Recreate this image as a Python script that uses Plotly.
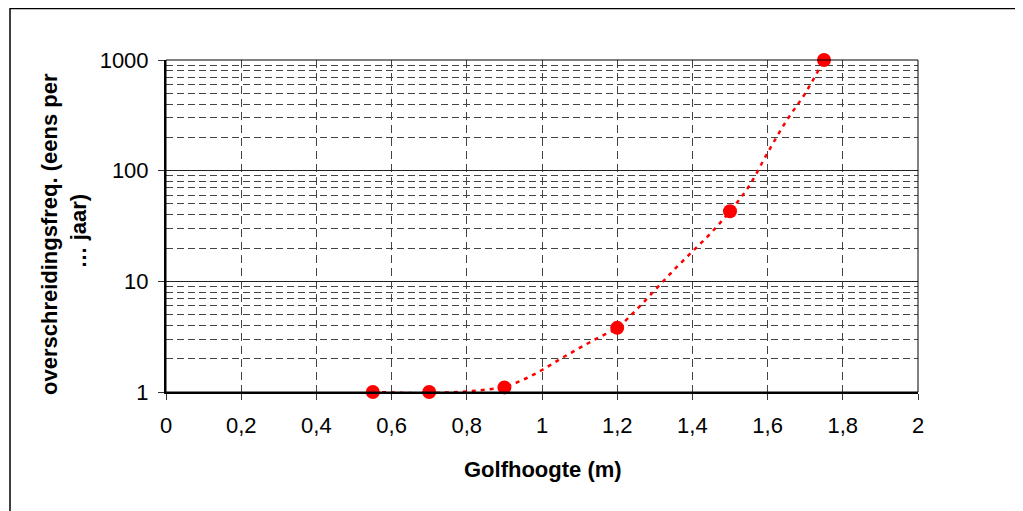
import plotly.graph_objects as go

# Measured points
golfhoogte = [0.55, 0.70, 0.90, 1.20, 1.50, 1.75]
freq = [1.0, 1.0, 1.1, 3.8, 43, 1000]

# Trendline
trend_x = [0.55, 0.60, 0.65, 0.70, 0.75, 0.80, 0.85, 0.90, 0.95, 1.00, 1.05, 1.10, 1.15,
           1.20, 1.25, 1.30, 1.35, 1.40, 1.45, 1.50, 1.55, 1.60, 1.65, 1.70, 1.75]
trend_y = [1.0, 0.99, 0.977, 0.977, 0.99, 1.01, 1.05, 1.11, 1.29, 1.58, 2.0, 2.5, 3.1,
           3.8, 5.5, 8.3, 12.6, 18.6, 27.5, 43, 72, 145, 282, 500, 1000]

y_major = [1, 10, 100, 1000]
y_major_text = ["1", "10", "100", "1000"]
y_minor = [m * d for d in (1, 10, 100) for m in range(2, 10)]

FONT = "Liberation Sans, Arial, sans-serif"
OFF = 8  # page body margin
W, H = 1023 - OFF, 511 - OFF
# plot area in page pixels: x 166..918, y 59.5..391.7
L = 166 - OFF
T = 60 - OFF
PW, PH = 752, 332
R = W - L - PW
B = H - T - PH


def px_x(page_x):
    return (page_x - OFF - L) / PW


def px_y(page_y):
    return 1 - (page_y - OFF - T) / PH


fig = go.Figure()
fig.add_trace(go.Scatter(
    x=trend_x, y=trend_y, mode="lines", line_shape="spline",
    line=dict(color="#FF0000", width=2.5, dash="4px,5px"),
    hoverinfo="skip", showlegend=False))
fig.add_trace(go.Scatter(
    x=golfhoogte, y=freq, mode="markers",
    marker=dict(color="#FF0000", size=14, line=dict(width=0)),
    cliponaxis=False, showlegend=False))

fig.update_layout(
    width=W, height=H,
    margin=dict(l=L, r=R, t=T, b=B, pad=0),
    paper_bgcolor="white", plot_bgcolor="white",
    separators=", ",
    font=dict(family=FONT, size=22, color="black"),
    xaxis=dict(
        range=[0, 2], tick0=0, dtick=0.2, showgrid=True,
        gridcolor="#444444", gridwidth=1, griddash="8px,5px",
        zeroline=False, showline=True, linecolor="black", linewidth=2,
        ticks="outside", ticklen=6, tickcolor="#333333", tickwidth=1,
        ticklabelstandoff=7, tickfont=dict(size=22, family=FONT),
    ),
    yaxis=dict(
        type="log", range=[0, 3], tickvals=y_major, ticktext=y_major_text,
        showgrid=True, gridcolor="#222222", gridwidth=1,
        zeroline=False, showline=True, linecolor="black", linewidth=2,
        ticks="outside", ticklen=6, tickcolor="#333333", tickwidth=1,
        ticklabelstandoff=5, tickfont=dict(size=22, family=FONT),
        minor=dict(tickvals=y_minor, showgrid=True, gridcolor="#444444",
                   gridwidth=1, griddash="7px,4px", ticks=""),
    ),
    shapes=[
        dict(type="rect", xref="paper", yref="paper", x0=0, x1=1, y0=0, y1=1,
             line=dict(color="black", width=1), layer="above"),
        dict(type="rect", xref="paper", yref="paper",
             x0=px_x(10), x1=px_x(1021), y0=-0.4, y1=px_y(8.5),
             line=dict(color="black", width=1.5), layer="below"),
    ],
    annotations=[
        dict(text="<b>Golfhoogte (m)</b>", xref="paper", yref="paper",
             x=px_x(543), y=px_y(469), xanchor="center", yanchor="middle",
             showarrow=False, font=dict(size=22, family=FONT)),
        dict(text="<b>overschreidingsfreq. (eens per<br>\u00a0… jaar)</b>",
             xref="paper", yref="paper",
             x=px_x(64), y=px_y(234),
             xanchor="center", yanchor="middle", textangle=-90,
             showarrow=False, font=dict(size=22, family=FONT)),
    ],
)

fig.write_html("out.html")
